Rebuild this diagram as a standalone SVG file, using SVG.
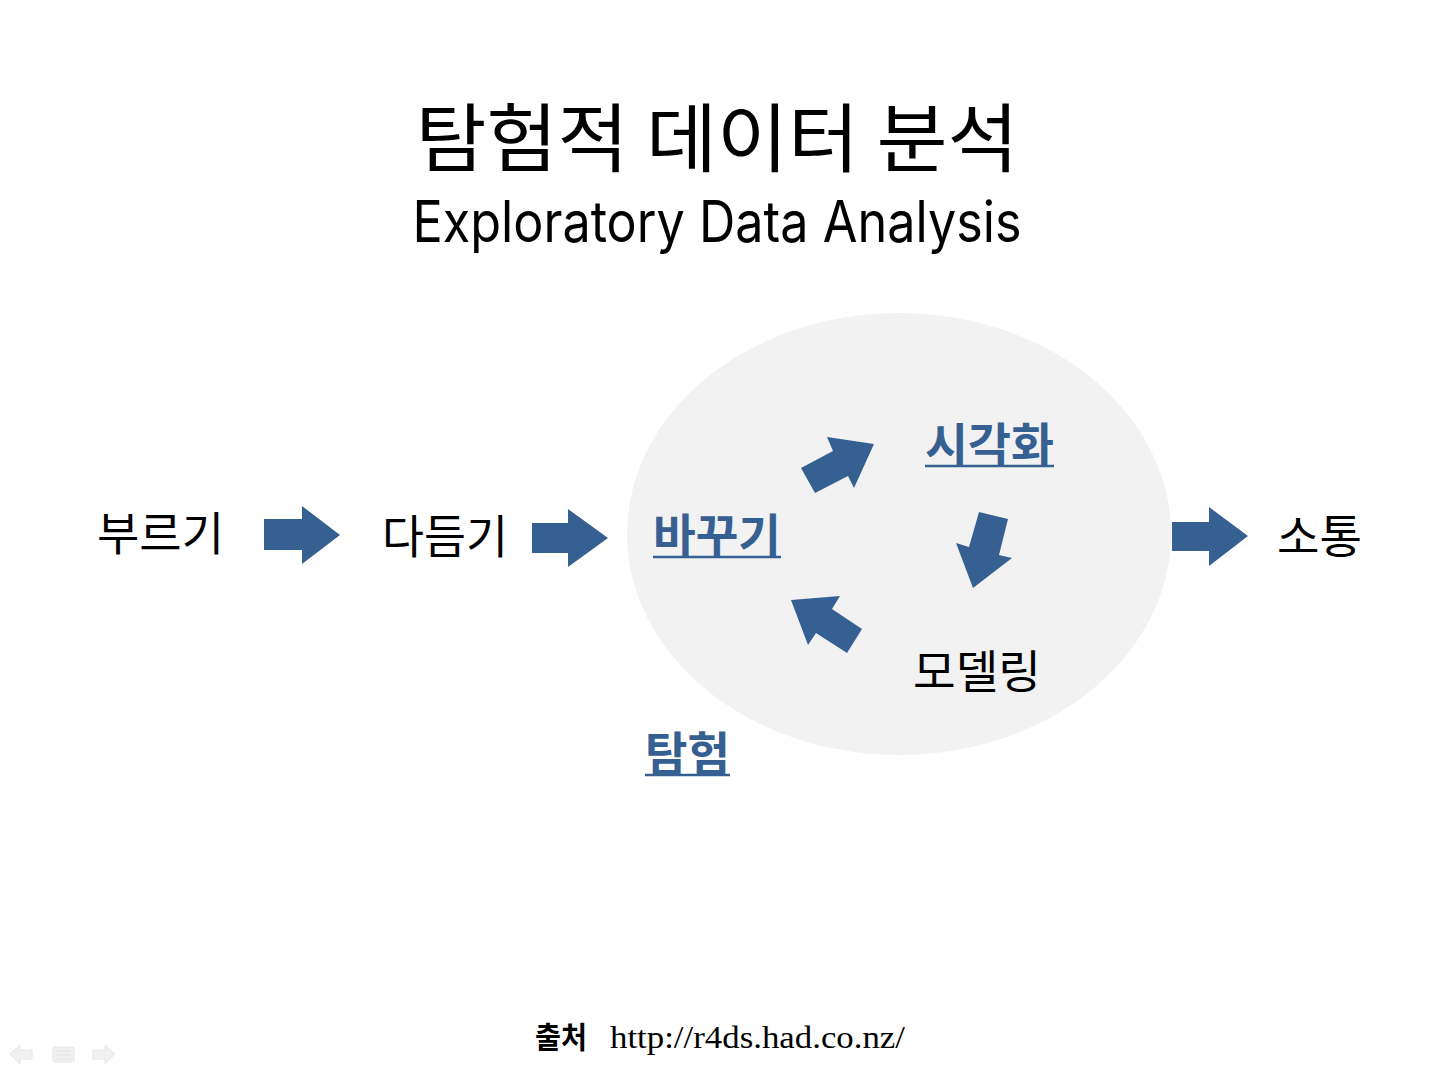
<svg xmlns="http://www.w3.org/2000/svg" width="1440" height="1080" viewBox="0 0 1440 1080">
<defs>
<style>
.k{font-family:"Noto Sans CJK KR","Noto Sans",sans-serif;fill:#000}
.lbl{font-size:46px}
.blue{fill:#376092;font-weight:bold}
.arr{fill:#376092}
.ul{stroke:#376092;stroke-width:2.5}
.nav{fill:#f1f1f1;stroke:#e6e6e6;stroke-width:1}
</style>
</defs>
<rect width="1440" height="1080" fill="#ffffff"/>
<g id="title">
<text class="k" x="717" y="166" font-size="75" text-anchor="middle" textLength="603" lengthAdjust="spacingAndGlyphs">탐험적 데이터 분석</text>
<text x="717" y="242" font-family="Inter,'Open Sans',sans-serif" font-size="57" text-anchor="middle" textLength="609" lengthAdjust="spacingAndGlyphs">Exploratory Data Analysis</text>
</g>
<g id="explore-region">
<ellipse cx="899" cy="534" rx="272" ry="221" fill="#f2f2f2"/>
</g>
<g id="node-import"><text class="k lbl" x="97" y="550" textLength="127" lengthAdjust="spacingAndGlyphs">부르기</text></g>
<g id="node-tidy"><text class="k lbl" x="382" y="553" textLength="126" lengthAdjust="spacingAndGlyphs">다듬기</text></g>
<g id="node-transform"><text class="k lbl blue" x="653" y="552" textLength="128" lengthAdjust="spacingAndGlyphs">바꾸기</text><line class="ul" x1="653" y1="557" x2="781" y2="557"/></g>
<g id="node-visualise"><text class="k lbl blue" x="925" y="461" textLength="129" lengthAdjust="spacingAndGlyphs">시각화</text><line class="ul" x1="925" y1="466" x2="1054" y2="466"/></g>
<g id="node-model"><text class="k lbl" x="913" y="688" textLength="128" lengthAdjust="spacingAndGlyphs">모델링</text></g>
<g id="node-communicate"><text class="k lbl" x="1277" y="553" textLength="85" lengthAdjust="spacingAndGlyphs">소통</text></g>
<g id="label-explore"><text class="k lbl blue" x="645" y="770" textLength="85" lengthAdjust="spacingAndGlyphs">탐험</text><line class="ul" x1="645" y1="775" x2="730" y2="775"/></g>
<g id="connectors">
<polygon class="arr" points="264,519 302,519 302,506 340,535 302,564 302,550 264,550"/>
<polygon class="arr" points="532,523 568,523 568,509 608,538 568,567 568,553 532,553"/>
<polygon class="arr" points="1172,522 1209,522 1209,507 1248,536 1209,566 1209,551 1172,551"/>
<polygon class="arr" points="801,468 833,451 827,437 874,444 854,488 848,476 815,493"/>
<polygon class="arr" points="979,512 1008,519 999,555 1012,558 973,588 956,543 969,547"/>
<polygon class="arr" points="862,629 847,653 816,633 808,645 791,600 840,596 832,609"/>
</g>
<g id="source">
<text class="k" x="535" y="1048" font-size="30" font-weight="bold" textLength="52" lengthAdjust="spacingAndGlyphs">출처</text>
<text x="610" y="1048" font-family="'Liberation Serif',serif" font-size="31" textLength="295" lengthAdjust="spacingAndGlyphs">http://r4ds.had.co.nz/</text>
</g>
<g id="nav">
<polygon class="nav" points="10,1054 20,1045 20,1050 32,1050 32,1059 20,1059 20,1064"/>
<rect class="nav" x="53" y="1047" width="21" height="15" rx="2"/>
<line x1="56" y1="1051" x2="71" y2="1051" stroke="#e2e2e2"/>
<line x1="56" y1="1055" x2="71" y2="1055" stroke="#e2e2e2"/>
<line x1="56" y1="1059" x2="71" y2="1059" stroke="#e2e2e2"/>
<polygon class="nav" points="115,1054 105,1045 105,1050 93,1050 93,1059 105,1059 105,1064"/>
</g>
</svg>
